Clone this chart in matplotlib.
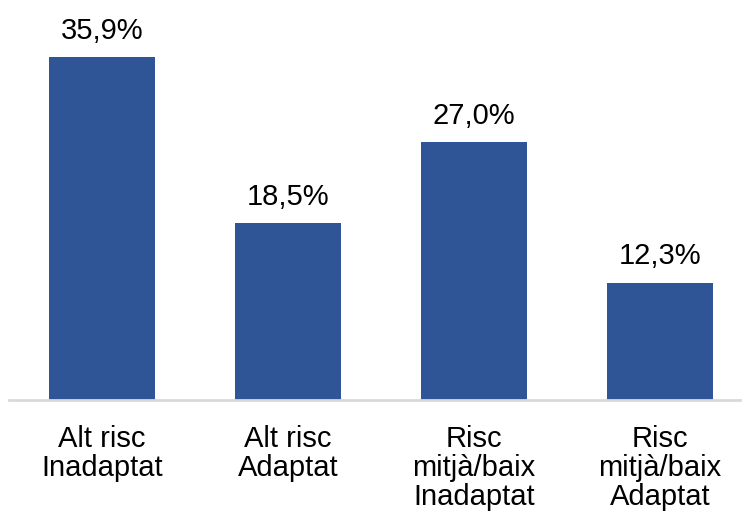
import matplotlib.pyplot as plt

plt.rcParams['font.family'] = ['Liberation Sans', 'DejaVu Sans']

categories = ['Alt risc\nInadaptat', 'Alt risc\nAdaptat',
              'Risc\nmitjà/baix\nInadaptat', 'Risc\nmitjà/baix\nAdaptat']
values = [35.9, 18.5, 27.0, 12.3]

fig = plt.figure(figsize=(7.44, 5.11), dpi=100)
ax = fig.add_axes([9 / 744, 1 - 400 / 511, 731 / 744, 380 / 511])

x = range(len(values))
bars = ax.bar(x, values, width=0.565, color='#2F5597')

for xi, v in zip(x, values):
    ax.text(xi, v + 1.3, f'{v:.1f}%'.replace('.', ','), ha='center', va='bottom', fontsize=21)

ax.set_xlim(-0.5, 3.43)
ax.set_ylim(0, 39.8)
ax.set_xticks(list(x))
ax.set_xticklabels(categories, fontsize=21, linespacing=1.04)
ax.tick_params(axis='x', length=0, pad=18)
ax.set_yticks([])
for s in ['top', 'right', 'left']:
    ax.spines[s].set_visible(False)
ax.spines['bottom'].set_color('#d9d9d9')
ax.spines['bottom'].set_linewidth(2)

fig.savefig('out.png', dpi=100)
